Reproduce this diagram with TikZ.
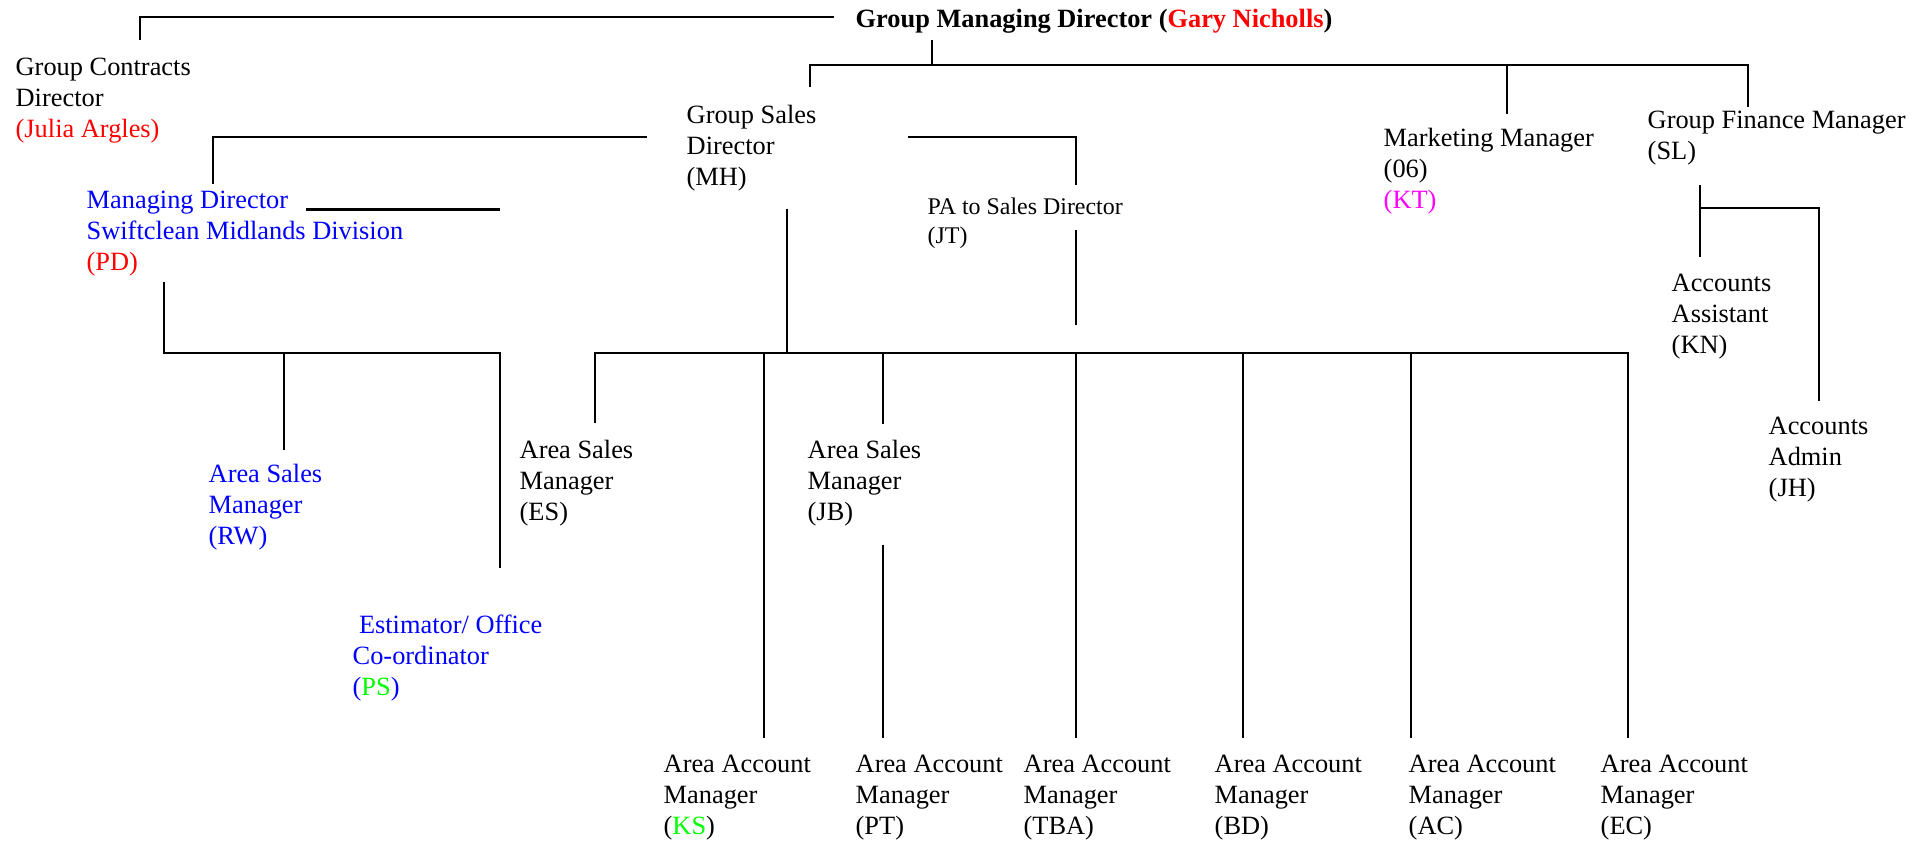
\documentclass[tikz,border=0pt]{standalone}
\usepackage{fontspec}
\setmainfont{Liberation Serif}
\usepackage{xcolor}

\definecolor{namered}{RGB}{255,0,0}
\definecolor{divblue}{RGB}{0,0,255}
\definecolor{newgreen}{RGB}{0,255,0}
\definecolor{mktpink}{RGB}{255,0,255}

\tikzset{
  post/.style={anchor=base west, inner sep=0pt, align=left,
    font=\fontsize{7.5}{8.8}\selectfont},
  conn/.style={line width=0.6pt},
  bar/.style={line width=0.8pt},
}

\begin{document}
\begin{tikzpicture}[x=0.01cm, y=-0.01cm]
\useasboundingbox (0,0) rectangle (1921,841);

% Top level (nodes sit on the baseline of their last line)
\node[post, font=\fontsize{7.5}{8.8}\selectfont\bfseries] (gmd) at (855,27)
  {Group Managing Director (\textcolor{namered}{Gary Nicholls})};
\node[post] (gcd) at (15,137) {Group Contracts\\Director\\\textcolor{namered}{(Julia Argles)}};

% Directors and managers
\node[post] (gsd) at (686,185) {Group Sales\\Director\\(MH)};
\node[post, font=\fontsize{6.8}{8}\selectfont] (pa) at (927,243) {PA to Sales Director\\(JT)};
\node[post, text=divblue] (mdsw) at (86,270)
  {Managing Director\\Swiftclean Midlands Division\\\textcolor{namered}{(PD)}};
\node[post] (mkt) at (1383,208) {Marketing Manager\\(06)\\\textcolor{mktpink}{(KT)}};
\node[post] (gfm) at (1647,159) {Group Finance Manager\\(SL)};

% Midlands division
\node[post, text=divblue] (asm-rw) at (208,544) {Area Sales\\Manager\\(RW)};
\node[post, text=divblue] (est) at (352,695)
  {\hspace{1.8pt}Estimator/ Office\\Co-ordinator\\(\textcolor{newgreen}{PS})};

% Sales team
\node[post] (asm-es) at (519,520) {Area Sales\\Manager\\(ES)};
\node[post] (asm-jb) at (807,520) {Area Sales\\Manager\\(JB)};
\node[post] (aam-ks) at (663,834) {Area Account\\Manager\\(\textcolor{newgreen}{KS})};
\node[post] (aam-pt) at (855,834) {Area Account\\Manager\\(PT)};
\node[post] (aam-tba) at (1023,834) {Area Account\\Manager\\(TBA)};
\node[post] (aam-bd) at (1214,834) {Area Account\\Manager\\(BD)};
\node[post] (aam-ac) at (1408,834) {Area Account\\Manager\\(AC)};
\node[post] (aam-ec) at (1600,834) {Area Account\\Manager\\(EC)};

% Finance team
\node[post] (acc-asst) at (1671,353) {Accounts\\Assistant\\(KN)};
\node[post] (acc-admin) at (1768,496) {Accounts\\Admin\\(JH)};

% Line ends
\coordinate (gmd-left) at (834,17);
\coordinate (gmd-foot) at (932,40);
\coordinate (gmd-bar) at (932,65);
\coordinate (gcd-head) at (140,40);
\coordinate (gsd-head) at (810,87);
\coordinate (mkt-head) at (1507,114);
\coordinate (gfm-head) at (1748,107);
\coordinate (gsd-left) at (647,137);
\coordinate (gsd-right) at (908,137);
\coordinate (gsd-foot) at (787,209);
\coordinate (mdsw-head) at (213,184);
\coordinate (pa-head) at (1076,185);
\coordinate (pa-foot) at (1076,230);
\coordinate (pa-end) at (1076,325);
\coordinate (mdsw-stub) at (306,209.5);
\coordinate (mdsw-foot) at (164,282);
\coordinate (asm-rw-head) at (284,450);
\coordinate (est-head) at (500,568);
\coordinate (asm-es-head) at (595,423);
\coordinate (asm-jb-head) at (883,424);
\coordinate (asm-jb-foot) at (883,545);
\coordinate (aam-ec-head) at (1628,738);
\coordinate (sales-bar) at (1628,353);
\coordinate (gfm-foot) at (1700,185);
\coordinate (acc-asst-head) at (1700,257);
\coordinate (acc-admin-head) at (1819,401);

% Top connectors
\draw[conn] (gcd-head) |- (gmd-left);
\draw[conn] (gmd-foot) -- (gmd-bar);
\draw[bar] (gsd-head) |- (gmd-bar) -| (gfm-head);
\draw[conn] (mkt-head) -- (mkt-head |- gmd-bar);

% Sales director connectors
\draw[bar] (mdsw-head) |- (gsd-left);
\draw[bar] (gsd-right) -| (pa-head);
\draw[conn] (pa-foot) -- (pa-end);
\draw[conn] (gsd-foot) -- (gsd-foot |- sales-bar);
\draw[bar] (asm-es-head) |- (sales-bar) -- (aam-ec-head);

% Midlands division connectors
\draw[bar] (mdsw-stub) -- (mdsw-stub -| est-head);
\draw[bar] (mdsw-foot) |- (500,353) -- (est-head);
\draw[conn] (asm-rw-head) -- (asm-rw-head |- sales-bar);

% Account managers
\foreach \x in {764,1076,1243,1411}
  \draw[conn] (\x,353) -- (\x,738);
\draw[conn] (asm-jb-head) -- (asm-jb-head |- sales-bar);
\draw[conn] (asm-jb-foot) -- (asm-jb-foot |- aam-ec-head);

% Finance connectors
\draw[conn] (gfm-foot) -- (acc-asst-head);
\draw[conn] (gfm-foot |- 0,208) -| (acc-admin-head);

\end{tikzpicture}
\end{document}
